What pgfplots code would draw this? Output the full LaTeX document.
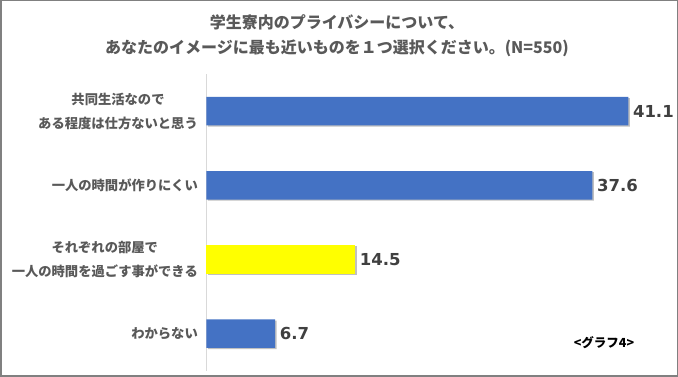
\documentclass[border=0pt]{standalone}
\usepackage{fontspec}
\setmainfont{Noto Sans CJK JP}
\newfontfamily\numfont{DejaVu Sans}
\usepackage{pgfplots}
\pgfplotsset{compat=1.18}
\usetikzlibrary{shadows}
\definecolor{barblue}{HTML}{4472C4}
\definecolor{baryellow}{HTML}{FFFF00}
\definecolor{textgray}{HTML}{595959}
\definecolor{numgray}{HTML}{404040}
\definecolor{axisgray}{HTML}{D9D9D9}
\begin{document}
\begin{tikzpicture}[x=1pt,y=1pt]
\fill[white] (0,0) rectangle (678,377);
\node[font=\bfseries\fontsize{16}{25}\selectfont, text=textgray, align=center] at (337,341) {学生寮内のプライバシーについて、\\あなたのイメージに最も近いものを１つ選択ください。(N=550)};
\node[font=\bfseries\fontsize{12.5}{14}\selectfont, text=black] at (604,34) {<グラフ4>};
\begin{axis}[
  at={(201,8.5)}, anchor=south west, scale only axis,
  width=462pt, height=296.7pt,
  xmin=0, xmax=45, ymin=-0.5, ymax=3.5,
  xbar, bar width=28.5pt, bar shift=0pt,
  axis x line=none, axis y line*=left,
  y axis line style={draw=axisgray, line width=0.8pt},
  ytick={0,1,2,3},
  yticklabels={{わからない},{それぞれの部屋で\\一人の時間を過ごす事ができる},{一人の時間が作りにくい},{共同生活なので\\ある程度は仕方ないと思う}},
  major tick length=0pt,
  yticklabel style={font=\bfseries\fontsize{13.3}{24}\selectfont, text=textgray, align=center, xshift=-5pt},
  /pgf/number format/assume math mode=true,
  nodes near coords,
  nodes near coords style={font=\numfont\bfseries\fontsize{16.5}{18}\selectfont, text=numgray, anchor=west, inner sep=1pt, xshift=3.5pt, /pgf/number format/.cd, fixed, fixed zerofill, precision=1},
  clip=false,
]
\addplot[fill=barblue, draw=none, drop shadow={shadow xshift=1.5pt, shadow yshift=-1.2pt, fill=black!35, opacity=0.7}] coordinates {(41.1,3) (37.6,2) (6.7,0)};
\addplot[fill=baryellow, draw=none, drop shadow={shadow xshift=1.5pt, shadow yshift=-1.2pt, fill=black!35, opacity=0.7}] coordinates {(14.5,1)};
\end{axis}
\draw[color=black!50, line width=1.5pt] (0.75,0.75) rectangle (677.25,376.25);
\pgfresetboundingbox
\path[use as bounding box] (0,0) rectangle (678,377);
\end{tikzpicture}
\end{document}
